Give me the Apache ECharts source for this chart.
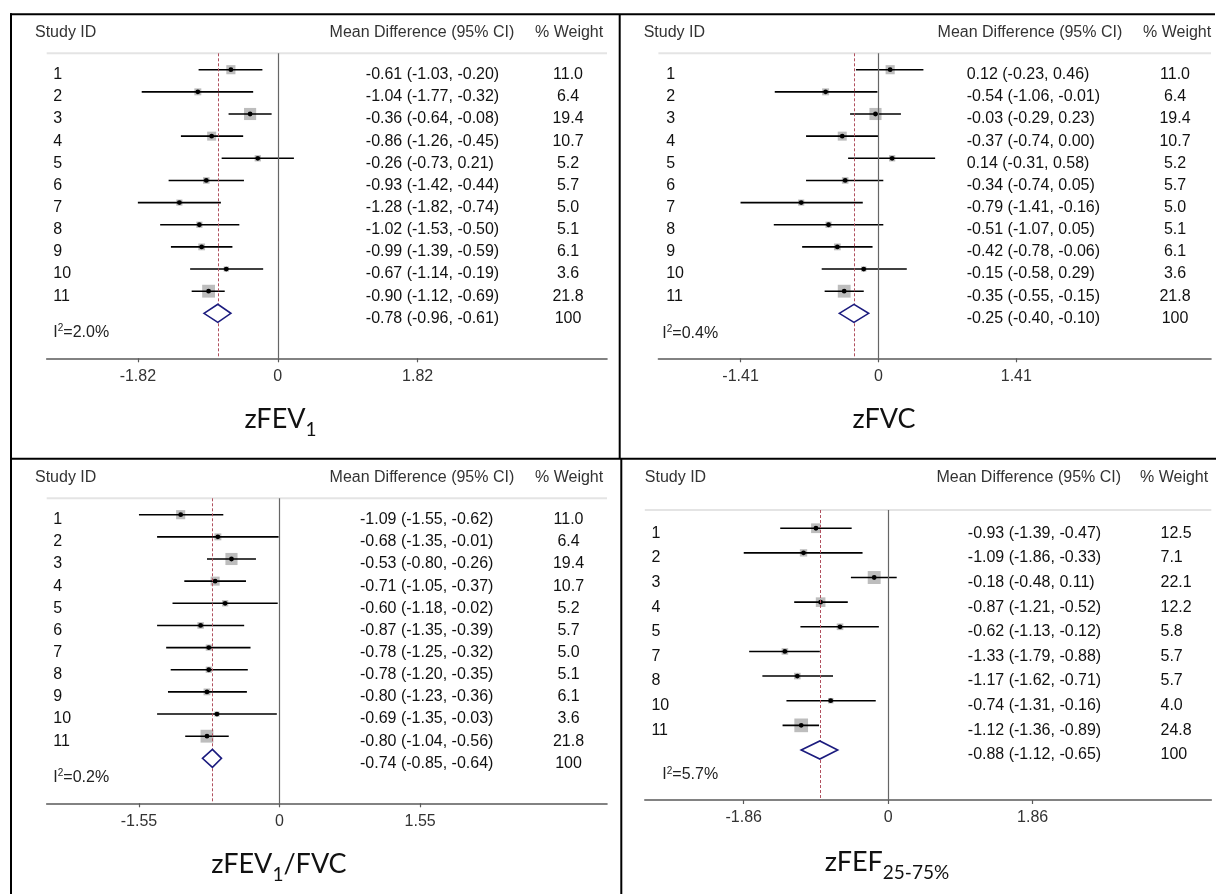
<!DOCTYPE html>
<html>
<head>
<meta charset="utf-8">
<title>Forest plots</title>
<script src="https://cdn.jsdelivr.net/npm/echarts@6.0.0/dist/echarts.min.js"></script>
<style>
  html, body { margin: 0; padding: 0; background: #fff; }
  #chart { width: 1216px; height: 894px; }
</style>
</head>
<body>
<div id="chart"></div>
<script>
// ---- data ----
// zFEV1
const fev1Ids = ['1', '2', '3', '4', '5', '6', '7', '8', '9', '10', '11'];
const fev1Md = [-0.61, -1.04, -0.36, -0.86, -0.26, -0.93, -1.28, -1.02, -0.99, -0.67, -0.90];
const fev1Lo = [-1.03, -1.77, -0.64, -1.26, -0.73, -1.42, -1.82, -1.53, -1.39, -1.14, -1.12];
const fev1Hi = [-0.20, -0.32, -0.08, -0.45, 0.21, -0.44, -0.74, -0.50, -0.59, -0.19, -0.69];
const fev1Wt = [11.0, 6.4, 19.4, 10.7, 5.2, 5.7, 5.0, 5.1, 6.1, 3.6, 21.8];
const fev1Pooled = [-0.78, -0.96, -0.61];
const fev1I2 = '2.0%';
const fev1Ticks = [-1.82, 0, 1.82];

// zFVC
const fvcIds = ['1', '2', '3', '4', '5', '6', '7', '8', '9', '10', '11'];
const fvcMd = [0.12, -0.54, -0.03, -0.37, 0.14, -0.34, -0.79, -0.51, -0.42, -0.15, -0.35];
const fvcLo = [-0.23, -1.06, -0.29, -0.74, -0.31, -0.74, -1.41, -1.07, -0.78, -0.58, -0.55];
const fvcHi = [0.46, -0.01, 0.23, 0.00, 0.58, 0.05, -0.16, 0.05, -0.06, 0.29, -0.15];
const fvcWt = [11.0, 6.4, 19.4, 10.7, 5.2, 5.7, 5.0, 5.1, 6.1, 3.6, 21.8];
const fvcPooled = [-0.25, -0.40, -0.10];
const fvcI2 = '0.4%';
const fvcTicks = [-1.41, 0, 1.41];

// zFEV1/FVC
const ratioIds = ['1', '2', '3', '4', '5', '6', '7', '8', '9', '10', '11'];
const ratioMd = [-1.09, -0.68, -0.53, -0.71, -0.60, -0.87, -0.78, -0.78, -0.80, -0.69, -0.80];
const ratioLo = [-1.55, -1.35, -0.80, -1.05, -1.18, -1.35, -1.25, -1.20, -1.23, -1.35, -1.04];
const ratioHi = [-0.62, -0.01, -0.26, -0.37, -0.02, -0.39, -0.32, -0.35, -0.36, -0.03, -0.56];
const ratioWt = [11.0, 6.4, 19.4, 10.7, 5.2, 5.7, 5.0, 5.1, 6.1, 3.6, 21.8];
const ratioPooled = [-0.74, -0.85, -0.64];
const ratioI2 = '0.2%';
const ratioTicks = [-1.55, 0, 1.55];

// zFEF25-75%
const fefIds = ['1', '2', '3', '4', '5', '7', '8', '10', '11'];
const fefMd = [-0.93, -1.09, -0.18, -0.87, -0.62, -1.33, -1.17, -0.74, -1.12];
const fefLo = [-1.39, -1.86, -0.48, -1.21, -1.13, -1.79, -1.62, -1.31, -1.36];
const fefHi = [-0.47, -0.33, 0.11, -0.52, -0.12, -0.88, -0.71, -0.16, -0.89];
const fefWt = [12.5, 7.1, 22.1, 12.2, 5.8, 5.7, 5.7, 4.0, 24.8];
const fefPooled = [-0.88, -1.12, -0.65];
const fefI2 = '5.7%';
const fefTicks = [-1.86, 0, 1.86];

const FONT = '"Liberation Sans", Arial, sans-serif';
const TITLE_FONT = 'Lato, "Open Sans", sans-serif';
const BOX_K = 2.75;   // box side = BOX_K * sqrt(weight)

// layout of each panel (pixels)
const panels = [
  { ids: fev1Ids, md: fev1Md, lo: fev1Lo, hi: fev1Hi, wt: fev1Wt, pooled: fev1Pooled, i2: fev1I2, ticks: fev1Ticks,
    title: '{m|zFEV}{s|1}',
    grid: { left: 46.7, top: 53.3, width: 560.3, height: 305 }, xMin: -3.006, xMax: 4.283,
    headY: 32.3, studyHeadX: 35, mdHeadX: 329.6, wHeadX: 535,
    idX: 53.3, effX: 365.8, wX: 568, wAlign: 'center', i2X: 53.3, i2Y: 332.3, titleX: 280.5, titleY: 419 },
  { ids: fvcIds, md: fvcMd, lo: fvcLo, hi: fvcHi, wt: fvcWt, pooled: fvcPooled, i2: fvcI2, ticks: fvcTicks,
    title: '{m|zFVC}',
    grid: { left: 658.4, top: 53.3, width: 552.6, height: 305 }, xMin: -2.25, xMax: 3.401,
    headY: 32.3, studyHeadX: 643.7, mdHeadX: 937.6, wHeadX: 1143,
    idX: 666.2, effX: 966.7, wX: 1175, wAlign: 'center', i2X: 662.3, i2Y: 333.3, titleX: 884, titleY: 419 },
  { ids: ratioIds, md: ratioMd, lo: ratioLo, hi: ratioHi, wt: ratioWt, pooled: ratioPooled, i2: ratioI2, ticks: ratioTicks,
    title: '{m|zFEV}{s|1}{m|/FVC}',
    grid: { left: 46.7, top: 498.3, width: 560.3, height: 305 }, xMin: -2.567, xMax: 3.61,
    headY: 477.3, studyHeadX: 35, mdHeadX: 329.6, wHeadX: 535,
    idX: 53.3, effX: 360, wX: 568.5, wAlign: 'center', i2X: 53.3, i2Y: 777.3, titleX: 279, titleY: 864 },
  { ids: fefIds, md: fefMd, lo: fefLo, hi: fefHi, wt: fefWt, pooled: fefPooled, i2: fefI2, ticks: fefTicks,
    title: '{m|zFEF}{s|25-75%}',
    grid: { left: 644.8, top: 510, width: 566.5, height: 290 }, xMin: -3.134, xMax: 4.161,
    headY: 477.3, studyHeadX: 644.8, mdHeadX: 936.4, wHeadX: 1140,
    idX: 651.4, effX: 967.8, wX: 1160.5, wAlign: 'left', i2X: 662.3, i2Y: 775, titleX: 887, titleY: 862 }
];

function f2(v) { return v.toFixed(2); }

function txt(x, y, text, align, color) {
  return {
    type: 'text', x: x, y: y,
    style: { text: text, fill: color || '#111', fontSize: 16, fontFamily: FONT,
      align: align, verticalAlign: 'middle', textAlign: align, textVerticalAlign: 'middle' }
  };
}

// one study: grey weight box, CI line, point estimate
function renderStudy(params, api) {
  const y = api.coord([0, api.value(1)])[1];
  const xm = api.coord([api.value(0), 0])[0];
  const xl = api.coord([api.value(2), 0])[0];
  const xh = api.coord([api.value(3), 0])[0];
  const s = BOX_K * Math.sqrt(api.value(4));
  return {
    type: 'group',
    children: [
      { type: 'rect', shape: { x: xm - s / 2, y: y - s / 2, width: s, height: s }, style: { fill: '#bdbdbd' } },
      { type: 'line', shape: { x1: xl, y1: y, x2: xh, y2: y }, style: { stroke: '#000', lineWidth: 1.6 } },
      { type: 'circle', shape: { cx: xm, cy: y, r: 2.4 }, style: { fill: '#000' } }
    ]
  };
}

// pooled estimate diamond
function renderDiamond(params, api) {
  const c = api.coord([api.value(0), api.value(1)]);
  const xl = api.coord([api.value(2), api.value(1)])[0];
  const xh = api.coord([api.value(3), api.value(1)])[0];
  const h = 9;
  return {
    type: 'polygon',
    shape: { points: [[xl, c[1]], [c[0], c[1] - h], [xh, c[1]], [c[0], c[1] + h]] },
    style: { fill: '#fff', stroke: '#1b1b7e', lineWidth: 1.6 }
  };
}

// table columns: study id, MD (95% CI), % weight
function renderRowText(p, params, api) {
  const i = params.dataIndex;
  const y = api.coord([0, api.value(1)])[1] + 5;
  const pooled = i === p.ids.length;
  const e = pooled ? p.pooled : [p.md[i], p.lo[i], p.hi[i]];
  const children = [
    txt(p.effX, y, f2(e[0]) + ' (' + f2(e[1]) + ', ' + f2(e[2]) + ')', 'left'),
    txt(p.wX, y, pooled ? '100' : p.wt[i].toFixed(1), p.wAlign)
  ];
  if (!pooled) children.push(txt(p.idX, y, p.ids[i], 'left'));
  return { type: 'group', children: children };
}

const option = { animation: false, grid: [], xAxis: [], yAxis: [], series: [], graphic: [] };

panels.forEach(function (p, k) {
  const n = p.ids.length + 1;
  const g = p.grid;
  option.grid.push({ left: g.left, top: g.top, width: g.width, height: g.height });
  option.xAxis.push({
    gridIndex: k, type: 'value', min: p.xMin, max: p.xMax, position: 'bottom',
    axisLine: { show: true, onZero: false, lineStyle: { color: '#5a5a5a', width: 1.6 } },
    axisTick: { show: true, customValues: p.ticks, length: 4, lineStyle: { color: '#5a5a5a', width: 1.2 } },
    axisLabel: { show: true, customValues: p.ticks, margin: 10, color: '#333', fontSize: 16, fontFamily: FONT,
      formatter: function (v) { return String(v); } },
    splitLine: { show: false }
  });
  option.yAxis.push({ gridIndex: k, type: 'value', min: 0.26, max: n + 2.03, inverse: true, show: false });

  option.series.push({
    type: 'custom', xAxisIndex: k, yAxisIndex: k, z: 3,
    data: p.md.map(function (m, i) { return [m, i + 1, p.lo[i], p.hi[i], p.wt[i]]; }),
    renderItem: renderStudy,
    markLine: {
      silent: true, symbol: 'none', label: { show: false }, animation: false,
      data: [
        { xAxis: 0, lineStyle: { color: '#666', width: 1.2, type: 'solid' } },
        { xAxis: p.pooled[0], lineStyle: { color: '#b0505e', width: 1, type: [3, 2] } }
      ]
    }
  });
  option.series.push({
    type: 'custom', xAxisIndex: k, yAxisIndex: k, z: 10,
    data: [[p.pooled[0], n, p.pooled[1], p.pooled[2]]],
    renderItem: renderDiamond
  });
  option.series.push({
    type: 'custom', xAxisIndex: k, yAxisIndex: k, z: 4, silent: true,
    data: p.ids.concat(['pooled']).map(function (_, i) { return [0, i + 1]; }),
    renderItem: function (params, api) { return renderRowText(p, params, api); }
  });

  // headers, separator, heterogeneity, title
  option.graphic.push(
    txt(p.studyHeadX, p.headY, 'Study ID', 'left', '#333'),
    txt(p.mdHeadX, p.headY, 'Mean Difference (95% CI)', 'left', '#333'),
    txt(p.wHeadX, p.headY, '% Weight', 'left', '#333'),
    { type: 'line', shape: { x1: g.left, y1: g.top, x2: g.left + g.width, y2: g.top },
      style: { stroke: '#e4e4e4', lineWidth: 2 }, z: 0 },
    { type: 'text', x: p.i2X, y: p.i2Y,
      style: { text: '{a|I}{b|2}{a|=' + p.i2 + '}', fill: '#222', align: 'left', verticalAlign: 'middle',
        rich: {
          a: { fontSize: 16, fontFamily: FONT, fill: '#222', lineHeight: 18 },
          b: { fontSize: 10, fontFamily: FONT, fill: '#222', lineHeight: 12, verticalAlign: 'top' }
        } } },
    { type: 'text', x: p.titleX, y: p.titleY,
      style: { text: p.title, fill: '#111', align: 'center', verticalAlign: 'middle',
        rich: {
          m: { fontSize: 27, fontFamily: TITLE_FONT, fill: '#111', lineHeight: 40 },
          s: { fontSize: 19, fontFamily: TITLE_FONT, fill: '#111', lineHeight: 20, verticalAlign: 'bottom' }
        } } }
  );
});

// panel frame
[[10, 14.3, 1215, 14.3], [11, 13.3, 11, 894], [619.7, 14.3, 619.7, 458.7],
 [621.3, 458.7, 621.3, 894], [10, 458.7, 1216, 458.7]].forEach(function (l) {
  option.graphic.push({ type: 'line', shape: { x1: l[0], y1: l[1], x2: l[2], y2: l[3] },
    style: { stroke: '#000', lineWidth: 2 } });
});

const chart = echarts.init(document.getElementById('chart'));
chart.setOption(option);
window.addEventListener('resize', function () { chart.resize(); });
</script>
</body>
</html>
